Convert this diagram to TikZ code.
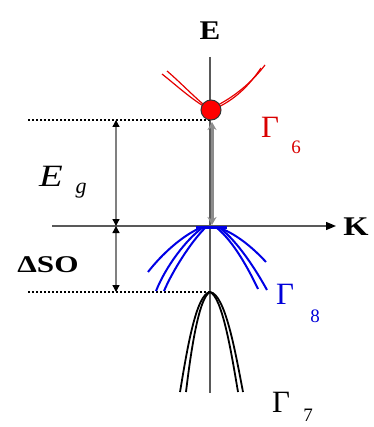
\documentclass[tikz,border=0pt]{standalone}
\usepackage{fontspec}
\setmainfont{Liberation Serif}
\usetikzlibrary{arrows.meta}
\tikzset{
  axis/.style={draw=black!65, line width=1.3pt},
  dotline/.style={draw=black, line width=1.8pt, dash pattern=on 1.8pt off 2.2pt},
  measure/.style={draw=black!50, line width=1.3pt, {Triangle[length=7pt,width=7pt,color=black]}-{Triangle[length=7pt,width=7pt,color=black]}},
  gap/.style={draw=black!45, line width=3pt, {Stealth[length=8pt,width=9pt]}-{Stealth[length=8pt,width=9pt]}},
  band6/.style={draw=red!90!black, line width=1.2pt},
  band8/.style={draw=blue!90!black, line width=2pt},
  band7/.style={draw=black, line width=1.8pt},
  lbl/.style={inner sep=0pt},
  big/.style={lbl, font=\fontsize{31}{33}\selectfont},
  sub/.style={lbl, font=\fontsize{19}{21}\selectfont},
  axlbl/.style={lbl, font=\fontsize{27}{29}\selectfont\bfseries}
}
\begin{document}
\begin{tikzpicture}[x=1pt,y=-1pt]
\useasboundingbox (0,0) rectangle (373,427);
% coordinates
\coordinate (etop) at (210,57);
\coordinate (ebot) at (210,393);
\coordinate (kl) at (52,226);
\coordinate (kr) at (336,226);
\coordinate (cb) at (210,120);
\coordinate (vb) at (210,292);
\coordinate (dl1) at (28,120);
\coordinate (dl2) at (28,292);
\coordinate (eg1) at (116,120);
\coordinate (eg2) at (116,226);
\coordinate (so1) at (116,226);
\coordinate (so2) at (116,292);
\coordinate (ga1) at (212,122);
\coordinate (ga2) at (212,225);
% axes
\draw[axis] (etop) -- (ebot);
\draw[axis, -{Triangle[length=10pt,width=8pt,color=black]}] (kl) -- (kr);
\node[axlbl] (E) at (210,31) {\scalebox{1.15}[1]{E}};
\node[axlbl] (K) at (356,227) {\scalebox{1.2}[1]{K}};
% dotted lines
\draw[dotline] (dl1) -- (cb);
\draw[dotline] (dl2) -- (vb);
% measure arrows
\draw[measure] (eg1) -- (eg2);
\draw[measure] (so1) -- (so2);
\draw[gap] (ga1) -- (ga2);
% Gamma 6 band
\draw[band6] (210,110) .. controls (192,100) and (176,85) .. (162,74);
\draw[band6] (210,110) .. controls (194,97) and (180,82) .. (167,71);
\draw[band6] (212,108) .. controls (235,97) and (252,82) .. (265,65);
\draw[band6] (212,110) .. controls (236,100) and (250,84) .. (261,68);
\node[circle, fill=red, draw=black!80, line width=1pt, minimum size=20pt, inner sep=0pt] (dot) at (211,110) {};
% Gamma 8 band
\draw[band8, line width=3pt] (196,227) -- (227,227);
\draw[band8] (200,228) .. controls (182,236) and (162,254) .. (148,272);
\draw[band8] (202,228) .. controls (186,240) and (166,266) .. (156,291);
\draw[band8] (205,228) .. controls (191,242) and (173,270) .. (164,291);
\draw[band8] (220,228) .. controls (238,235) and (254,249) .. (266,262);
\draw[band8] (217,228) .. controls (234,242) and (249,270) .. (258,289);
\draw[band8] (220,228) .. controls (238,242) and (256,270) .. (267,290);
% Gamma 7 band
\draw[band7] (210,292) .. controls (196,294) and (187,350) .. (180,392);
\draw[band7] (210,292) .. controls (199,297) and (191,350) .. (186,392);
\draw[band7] (210,292) .. controls (225,294) and (235,350) .. (243,392);
\draw[band7] (210,292) .. controls (222,297) and (231,350) .. (238,392);
% labels
\node[big, text=red!85!black] (G6) at (270,127) {Γ};
\node[sub, text=red!85!black] (G6s) at (296,147) {6};
\node[big, text=blue!85!black] (G8) at (285,294) {Γ};
\node[sub, text=blue!85!black] (G8s) at (315,316) {8};
\node[big] (G7) at (281,402) {Γ};
\node[sub] (G7s) at (308,415) {7};
\node[big] (Eg) at (51,176) {\scalebox{1.25}[1]{\textit{E}}};
\node[lbl, font=\fontsize{22}{24}\selectfont] (Egs) at (81,191) {\textit{g}};
\node[lbl, font=\fontsize{24}{26}\selectfont\bfseries] (SO) at (48,265) {\scalebox{1.3}[1]{ΔSO}};
\end{tikzpicture}
\end{document}
